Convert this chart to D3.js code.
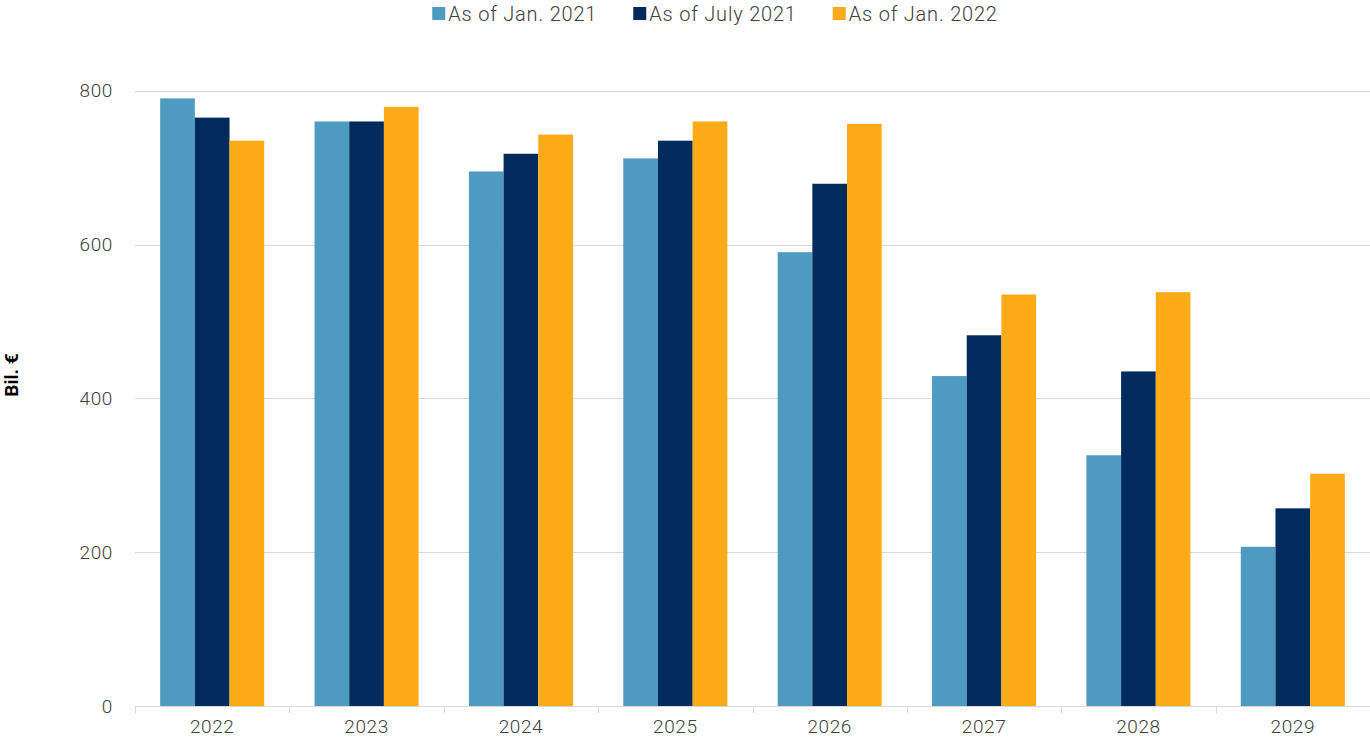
<!DOCTYPE html>
<html>
<head>
<meta charset="utf-8">
<script src="https://cdn.jsdelivr.net/npm/d3@7"></script>
<style>
  html, body { margin: 0; padding: 0; background: #fff; }
  svg { display: block; font-family: Roboto, "Noto Sans", sans-serif; }
</style>
</head>
<body>
<svg id="chart" width="1370" height="746"></svg>
<script>
// Years on the x axis
const years = ["2022", "2023", "2024", "2025", "2026", "2027", "2028", "2029"];

// Series names shown in the legend
const seriesNames = ["As of Jan. 2021", "As of July 2021", "As of Jan. 2022"];

// Values in billions of euros per forecast vintage
const jan2021 = [790, 760, 695, 712, 590, 429, 326, 207];
const july2021 = [765, 760, 718, 735, 679, 482, 435, 257];
const jan2022 = [735, 779, 743, 760, 757, 535, 538, 302];

const yTicks = [0, 200, 400, 600, 800];
const colors = ["#4f9ac1", "#002b5c", "#fdab19"];

const seriesValues = [jan2021, july2021, jan2022];
const rows = years.map((y, i) => ({ year: y, values: seriesValues.map(s => s[i]) }));

const svg = d3.select("#chart");
const margin = { left: 135, right: 0, top: 90.7, bottom: 40 };
const width = 1370, height = 746;
const plotBottom = 706;

const x0 = d3.scaleBand()
  .domain(years)
  .range([margin.left, width - margin.right])
  .paddingInner(0.326)
  .paddingOuter(0.163);

const x1 = d3.scaleBand()
  .domain(d3.range(seriesNames.length))
  .range([0, x0.bandwidth()])
  .padding(0);

const y = d3.scaleLinear().domain([0, 800]).range([plotBottom, margin.top]);

// Horizontal gridlines
svg.append("g")
  .selectAll("line")
  .data(yTicks.filter(d => d > 0))
  .join("line")
  .attr("x1", margin.left)
  .attr("x2", width)
  .attr("y1", d => Math.round(y(d)) + 0.5)
  .attr("y2", d => Math.round(y(d)) + 0.5)
  .attr("stroke", "#d9d9d9")
  .attr("stroke-width", 1);

// Y axis labels (no domain line)
const yAxis = svg.append("g")
  .attr("transform", `translate(${margin.left},0)`)
  .call(d3.axisLeft(y).tickValues(yTicks).tickSize(0).tickPadding(22));
yAxis.select(".domain").remove();
yAxis.selectAll("text")
  .attr("font-size", 19)
  .attr("font-weight", 300)
  .attr("letter-spacing", 0.6)
  .attr("fill", "#404040")
  .style("font-family", "Roboto, sans-serif");

// Bars
svg.append("g")
  .selectAll("g")
  .data(rows)
  .join("g")
  .attr("transform", d => `translate(${x0(d.year)},0)`)
  .selectAll("rect")
  .data(d => d.values.map((v, i) => ({ i, v })))
  .join("rect")
  .attr("x", d => x1(d.i))
  .attr("width", x1.bandwidth())
  .attr("y", d => y(d.v))
  .attr("height", d => y(0) - y(d.v))
  .attr("fill", d => colors[d.i]);

// X axis with category separators
const step = x0.step();
const boundaries = d3.range(years.length + 1).map(i => margin.left + i * step);
const xAxisG = svg.append("g");
xAxisG.append("line")
  .attr("x1", margin.left).attr("x2", width)
  .attr("y1", plotBottom + 0.5).attr("y2", plotBottom + 0.5)
  .attr("stroke", "#d9d9d9");
xAxisG.selectAll("line.sep")
  .data(boundaries)
  .join("line")
  .attr("class", "sep")
  .attr("x1", d => Math.round(d) + 0.5)
  .attr("x2", d => Math.round(d) + 0.5)
  .attr("y1", plotBottom)
  .attr("y2", plotBottom + 7)
  .attr("stroke", "#d9d9d9");
svg.append("g")
  .attr("transform", `translate(0,${plotBottom})`)
  .call(d3.axisBottom(x0).tickSize(0).tickPadding(14))
  .call(g => g.select(".domain").remove())
  .selectAll("text")
  .attr("font-size", 19)
  .attr("font-weight", 300)
  .attr("letter-spacing", 0.6)
  .attr("fill", "#404040")
  .style("font-family", "Roboto, sans-serif");

// Y axis title
svg.append("text")
  .attr("transform", "translate(18,375) rotate(-90)")
  .attr("text-anchor", "middle")
  .attr("font-size", 19)
  .attr("font-weight", 700)
  .attr("fill", "#000")
  .text("Bil. €");

// Legend
const legend = svg.append("g");
const items = legend.selectAll("g")
  .data(seriesNames)
  .join("g");
items.append("rect")
  .attr("width", 13).attr("height", 13)
  .attr("y", 7)
  .attr("fill", (d, i) => colors[i]);
items.append("text")
  .attr("x", 16)
  .attr("y", 21)
  .attr("font-size", 20)
  .attr("font-weight", 300)
  .attr("letter-spacing", 0.8)
  .attr("fill", "#404040")
  .text(d => d);
let cursor = 0;
const widths = [];
items.each(function () {
  const w = 16 + this.querySelector("text").getComputedTextLength();
  widths.push(w);
});
const gap = 36;
const total = d3.sum(widths) + gap * (widths.length - 1);
cursor = 715 - total / 2;
items.attr("transform", (d, i) => {
  const t = `translate(${cursor},0)`;
  cursor += widths[i] + gap;
  return t;
});
</script>
</body>
</html>
